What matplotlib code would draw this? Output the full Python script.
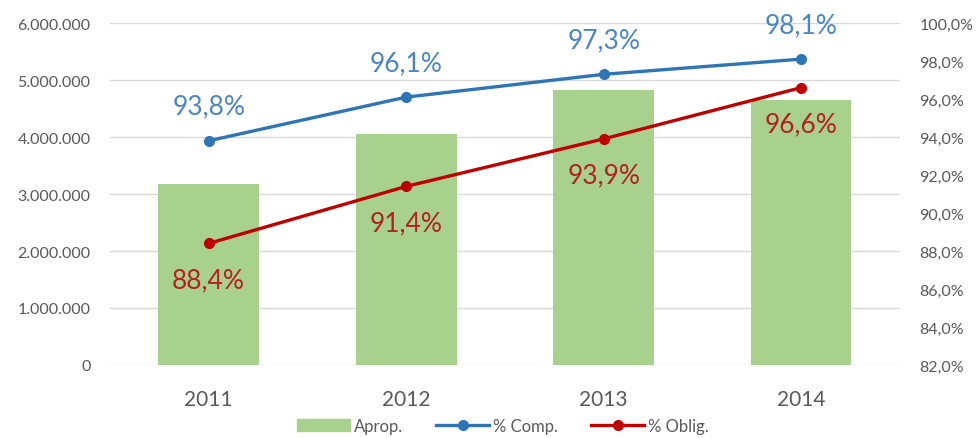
import matplotlib.pyplot as plt
from matplotlib.ticker import FuncFormatter
from matplotlib.lines import Line2D
from matplotlib.patches import Patch

plt.rcParams['font.family'] = ['Lato', 'DejaVu Sans']

anos = ['2011', '2012', '2013', '2014']
aprop = [3180000, 4050000, 4820000, 4650000]
comp = [93.8, 96.1, 97.3, 98.1]
oblig = [88.4, 91.4, 93.9, 96.6]

verde = '#a9d18e'
azul = '#2e75b6'
vermelho = '#c00000'
cinza = '#595959'

fig = plt.figure(figsize=(9.76, 4.39), dpi=100)
ax = fig.add_axes([0.1127, 0.1663, 0.8093, 0.779])
x = range(len(anos))

ax.bar(x, aprop, width=0.51, color=verde, zorder=2)
ax.set_ylim(0, 6000000)
ax.set_xlim(-0.5, 3.5)
ax.set_yticks(range(0, 6000001, 1000000))
ax.yaxis.set_major_formatter(FuncFormatter(lambda v, p: f'{int(v):,}'.replace(',', '.')))
ax.grid(axis='y', color='#d9d9d9', linewidth=1, zorder=0)
ax.set_axisbelow(True)
ax.set_xticks(list(x))
ax.set_xticklabels(anos, fontsize=15, color=cinza)
ax.tick_params(axis='y', labelsize=11.5, labelcolor=cinza, length=0, pad=14)
ax.tick_params(axis='x', length=0, pad=17)
for s in ax.spines.values():
    s.set_visible(False)

ax2 = ax.twinx()
ax2.plot(x, comp, color=azul, lw=2.4, marker='o', ms=7, zorder=3)
ax2.plot(x, oblig, color=vermelho, lw=2.4, marker='o', ms=7, zorder=3)
ax2.set_ylim(82, 100)
ax2.set_yticks(range(82, 101, 2))
ax2.yaxis.set_major_formatter(FuncFormatter(lambda v, p: f'{v:.1f}%'.replace('.', ',')))
ax2.tick_params(axis='y', labelsize=11.5, labelcolor=cinza, length=0, pad=14)
for s in ax2.spines.values():
    s.set_visible(False)

for i, v in enumerate(comp):
    ax2.annotate(f'{v:.1f}%'.replace('.', ','), (i, v), xytext=(0, 25),
                 textcoords='offset points', ha='center', va='center',
                 fontsize=19, color='#4a86c5')
for i, v in enumerate(oblig):
    ax2.annotate(f'{v:.1f}%'.replace('.', ','), (i, v), xytext=(0, -26),
                 textcoords='offset points', ha='center', va='center',
                 fontsize=19, color='#b52020')

handles = [Patch(color=verde),
           Line2D([], [], color=azul, lw=2.4, marker='o', ms=7),
           Line2D([], [], color=vermelho, lw=2.4, marker='o', ms=7)]
fig.legend(handles, ['Aprop.', '% Comp.', '% Oblig.'], loc='center',
           bbox_to_anchor=(0.515, 0.028), ncol=3, frameon=False, fontsize=12,
           labelcolor=cinza, handlelength=3.2, handletextpad=0.2, columnspacing=2)

fig.savefig('out.png', dpi=100)
